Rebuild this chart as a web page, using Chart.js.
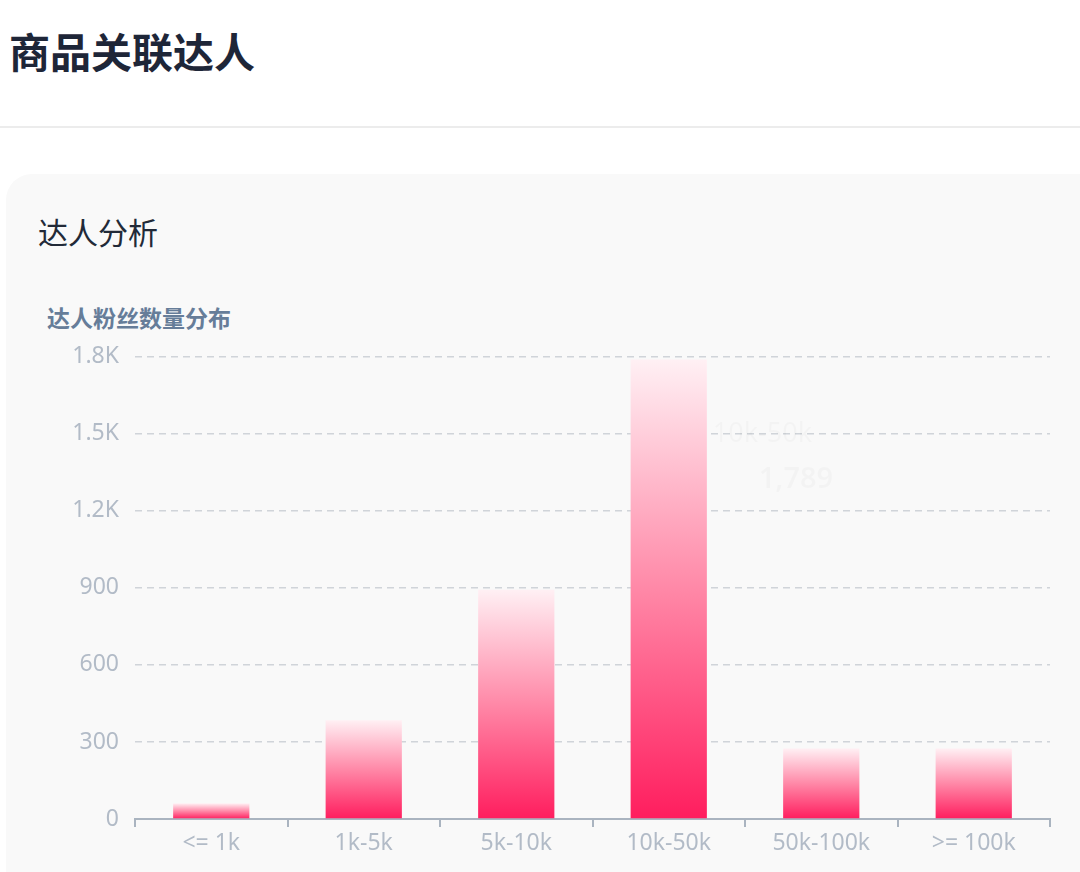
<!DOCTYPE html>
<html>
<head>
<meta charset="utf-8">
<script src="https://cdn.jsdelivr.net/npm/chart.js@4/dist/chart.umd.min.js"></script>
<style>
  html, body { margin: 0; padding: 0; background: #fff; }
  body { width: 1080px; height: 872px; position: relative; overflow: hidden;
         font-family: "Noto Sans CJK SC", "Noto Sans", sans-serif; }
  .page-title { position: absolute; left: 9px; top: 20px; margin: 0;
                font-size: 41px; font-weight: 700; color: #1e2638; line-height: 60px; }
  .divider { position: absolute; left: 0; top: 126px; width: 1080px; height: 2px; background: #ececec; }
  .card { position: absolute; left: 6px; top: 174px; width: 1110px; height: 760px;
          background: #f9f9f9; border-radius: 26px; }
  .card-title { position: absolute; left: 38px; top: 209px; margin: 0;
                font-size: 30px; font-weight: 400; color: #222a38; line-height: 44px; }
  .chart-title { position: absolute; left: 47px; top: 300px; margin: 0;
                 font-size: 23px; font-weight: 700; color: #667d99; line-height: 34px; }
  .chart-box { position: absolute; left: 0; top: 327px; width: 1080px; height: 545px; }
</style>
</head>
<body>
<h1 class="page-title">商品关联达人</h1>
<div class="divider"></div>
<div class="card"></div>
<h2 class="card-title">达人分析</h2>
<div class="chart-title">达人粉丝数量分布</div>
<div class="chart-box"><canvas id="fansChart"></canvas></div>

<script>
// Data
const categories = ['<= 1k', '1k-5k', '5k-10k', '10k-50k', '50k-100k', '>= 100k'];
const fanCounts = [61, 385, 893, 1789, 275, 275];
const yTickValues = [0, 300, 600, 900, 1200, 1500, 1800];
const yTickLabels = ['0', '300', '600', '900', '1.2K', '1.5K', '1.8K'];
const highlightIndex = 3; // the faded tooltip left over on the chart

// Vertical gradient for each bar, from its own top down to the axis
function barGradient(context) {
    const chart = context.chart;
    const yScale = chart.scales.y;
    if (!chart.chartArea || !yScale || context.parsed == null) return '#ff2a66';
    const top = yScale.getPixelForValue(context.parsed.y);
    const bottom = yScale.getPixelForValue(0);
    if (!isFinite(top) || !isFinite(bottom) || bottom - top < 1) return '#ff2a66';
    const g = chart.ctx.createLinearGradient(0, top, 0, bottom);
    g.addColorStop(0, 'rgba(255, 240, 244, 1)');
    g.addColorStop(0.5, '#ff88a7');
    g.addColorStop(1, '#ff1d5e');
    return g;
}

// Faint ghost of a tooltip beside the tallest bar
const ghostTooltip = {
    id: 'ghostTooltip',
    afterDatasetsDraw(chart) {
        const el = chart.getDatasetMeta(0).data[highlightIndex];
        if (!el) return;
        const ctx = chart.ctx;
        ctx.save();
        ctx.fillStyle = 'rgba(0, 0, 0, 0.022)';
        ctx.textBaseline = 'middle';
        ctx.textAlign = 'left';
        ctx.font = '400 27px "Noto Sans", sans-serif';
        ctx.fillText(categories[highlightIndex], el.x + 44, el.y + 75);
        ctx.font = '600 29px "Noto Sans", sans-serif';
        ctx.fillText(fanCounts[highlightIndex].toLocaleString('en-US'), el.x + 90, el.y + 120);
        ctx.restore();
    }
};

const ctx = document.getElementById('fansChart').getContext('2d');
const fansChart = new Chart(ctx, {
    type: 'bar',
    data: {
        labels: categories,
        datasets: [{
            label: '达人粉丝数量分布',
            data: fanCounts,
            backgroundColor: barGradient,
            borderWidth: 0,
            barPercentage: 0.5,
            categoryPercentage: 1
        }]
    },
    options: {
        responsive: true,
        maintainAspectRatio: false,
        animation: false,
        layout: { padding: { top: 0, right: 30, left: 0, bottom: 0 } },
        plugins: {
            legend: { display: false },
            tooltip: { enabled: false },
            title: { display: false }
        },
        scales: {
            x: {
                grid: {
                    offset: true,
                    drawOnChartArea: false,
                    drawTicks: true,
                    tickLength: 8,
                    color: '#aab4c0',
                    lineWidth: 2
                },
                border: { display: true, color: '#aab4c0', width: 2 },
                ticks: {
                    color: '#b2bbc7',
                    padding: 3,
                    font: { family: '"Noto Sans", sans-serif', size: 23 }
                },
                afterFit(scale) { scale.height = 53; }
            },
            y: {
                min: 0,
                max: 1800,
                afterBuildTicks(scale) {
                    scale.ticks = yTickValues.map(v => ({ value: v }));
                },
                grid: {
                    drawTicks: false,
                    color: '#d0d4d9',
                    lineWidth: 1.5
                },
                border: { display: false, dash: [7, 5] },
                ticks: {
                    color: '#b2bbc7',
                    padding: 16,
                    font: { family: '"Noto Sans", sans-serif', size: 23 },
                    callback: (value, index) => yTickLabels[index]
                },
                afterFit(scale) { scale.width = 135; }
            }
        }
    },
    plugins: [ghostTooltip]
});
</script>
</body>
</html>
